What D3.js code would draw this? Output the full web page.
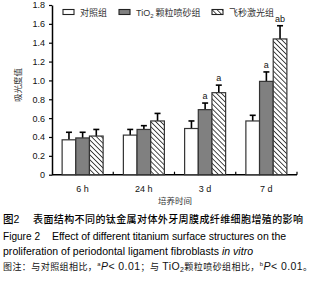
<!DOCTYPE html>
<html>
<head>
<meta charset="utf-8">
<script src="https://cdn.jsdelivr.net/npm/d3@7"></script>
<style>
  body { margin: 0; background: #fff; }
  svg { display: block; font-family: "Liberation Sans", Arial, "Noto Sans CJK SC", sans-serif; }
</style>
</head>
<body>
<script>
/* ---------------------------------- data ---------------------------------- */
const categories = ["6 h", "24 h", "3 d", "7 d"];
const groups = ["对照组", "TiO2颗粒喷砂组", "飞秒激光组"];
const control = [0.37, 0.42, 0.49, 0.57];
const controlErr = [0.08, 0.06, 0.08, 0.06];
const tio2 = [0.39, 0.48, 0.69, 0.99];
const tio2Err = [0.06, 0.04, 0.07, 0.10];
const laser = [0.41, 0.57, 0.87, 1.44];
const laserErr = [0.07, 0.08, 0.08, 0.14];
const marks = [["", "", "", ""], ["", "", "a", "a"], ["", "", "a", "ab"]];
const yTicks = [0, 0.2, 0.4, 0.6, 0.8, 1.0, 1.2, 1.4, 1.6, 1.8];

const width = 320, height = 281;
const svg = d3.select("body").append("svg").attr("width", width).attr("height", height);

// hatch pattern (lines top-left to bottom-right)
const defs = svg.append("defs");
const pat = defs.append("pattern").attr("id", "hatch")
  .attr("patternUnits", "userSpaceOnUse").attr("width", 3.5).attr("height", 3.5)
  .attr("patternTransform", "rotate(45)");
pat.append("rect").attr("width", 3.5).attr("height", 3.5).attr("fill", "#fff");
pat.append("line").attr("x1", 0).attr("y1", 0).attr("x2", 3.5).attr("y2", 0)
  .attr("stroke", "#222").attr("stroke-width", 1.6);

const fills = ["#ffffff", "#808080", "url(#hatch)"];
const values = [control, tio2, laser];
const errs = [controlErr, tio2Err, laserErr];

/* --------------------------------- scales --------------------------------- */
const x = d3.scaleBand().domain(categories).range([52, 297]);
const xs = d3.scaleBand().domain(d3.range(3)).range([0, 41]);
const y = d3.scaleLinear().domain([0, 1.8]).range([174.7, 5]);
const pad = (x.bandwidth() - 41) / 2;

//y axis
const yAxis = svg.append("g").attr("transform", "translate(52,0)")
  .call(d3.axisLeft(y).tickValues(yTicks).tickSize(3).tickSizeOuter(0)
    .tickFormat(d => d === 0 ? "0" : d3.format(".1f")(d)));
yAxis.select(".domain").attr("stroke", "#000").attr("stroke-width", 1.5);
yAxis.selectAll("line").attr("stroke", "#000").attr("stroke-width", 1.2);
yAxis.selectAll("text").attr("font-size", 9).attr("fill", "#111").attr("dx", "-0.1em");

//x axis line and inward ticks
svg.append("line").attr("x1", 52).attr("x2", 297).attr("y1", y(0)).attr("y2", y(0))
  .attr("stroke", "#000").attr("stroke-width", 1.5);
svg.selectAll(".xt").data(categories).enter().append("line")
  .attr("x1", d => x(d) + x.step()).attr("x2", d => x(d) + x.step())
  .attr("y1", y(0)).attr("y2", y(0) - 3).attr("stroke", "#000").attr("stroke-width", 1.2);
svg.selectAll(".xl").data(categories).enter().append("text")
  .attr("x", d => x(d) + x.bandwidth() / 2).attr("y", 192)
  .attr("text-anchor", "middle").attr("font-size", 9).attr("fill", "#111").text(d => d);

/* ---------------------------------- bars ---------------------------------- */
values.forEach((vals, gi) => {
  const g = svg.append("g");
  categories.forEach((c, ci) => {
    const bx = x(c) + pad + xs(gi);
    const cx = bx + xs.bandwidth() / 2;
    const top = y(vals[ci] + errs[gi][ci]);
    g.append("line").attr("x1", cx).attr("x2", cx).attr("y1", y(vals[ci])).attr("y2", top)
      .attr("stroke", "#000").attr("stroke-width", 1.6);
    g.append("line").attr("x1", cx - 3).attr("x2", cx + 3).attr("y1", top).attr("y2", top)
      .attr("stroke", "#000").attr("stroke-width", 1.6);
    g.append("rect").attr("x", bx).attr("y", y(vals[ci]))
      .attr("width", xs.bandwidth()).attr("height", y(0) - y(vals[ci]))
      .attr("fill", fills[gi]).attr("stroke", "#333").attr("stroke-width", 1.2);
    if (marks[gi][ci]) {
      g.append("text").attr("x", cx).attr("y", top - 4).attr("text-anchor", "middle")
        .attr("font-size", 9).attr("fill", "#111").text(marks[gi][ci]);
    }
  });
});

/* --------------------------------- legend --------------------------------- */
const legX = [63, 119, 212];
const leg = svg.append("g");
groups.forEach((name, i) => {
  leg.append("rect").attr("x", legX[i]).attr("y", 9.5).attr("width", 11).attr("height", 5)
    .attr("fill", fills[i]).attr("stroke", "#222").attr("stroke-width", 1.1);
  const t = leg.append("text").attr("x", legX[i] + 17).attr("y", 15.5)
    .attr("font-size", 9).attr("fill", "#333");
  if (i === 1) {
    t.append("tspan").text("TiO");
    t.append("tspan").attr("font-size", 6).attr("dy", 2).text("2");
    t.append("tspan").attr("dy", -2).attr("dx", 2).text("颗粒喷砂组");
  } else t.text(name);
});

// axis titles
svg.append("text").attr("transform", "translate(21,85) rotate(-90)")
  .attr("text-anchor", "middle").attr("font-size", 8.5).attr("fill", "#333").text("吸光度值");
svg.append("text").attr("x", 175).attr("y", 204).attr("text-anchor", "middle")
  .attr("font-size", 8.5).attr("fill", "#333").text("培养时间");

/* --------------------------------- caption -------------------------------- */
svg.append("text").attr("x", 3).attr("y", 223).attr("font-size", 10.5).attr("fill", "#000")
  .attr("font-weight", 500).text("图2");
svg.append("text").attr("x", 33).attr("y", 223).attr("font-size", 10).attr("fill", "#000")
  .attr("font-weight", 500).attr("textLength", 270).attr("lengthAdjust", "spacing")
  .text("表面结构不同的钛金属对体外牙周膜成纤维细胞增殖的影响");
svg.append("text").attr("x", 3).attr("y", 240).attr("font-size", 10.5).attr("fill", "#000")
  .attr("textLength", 37).attr("lengthAdjust", "spacingAndGlyphs").text("Figure 2");
svg.append("text").attr("x", 52).attr("y", 240).attr("font-size", 10.5).attr("fill", "#000")
  .attr("textLength", 234).attr("lengthAdjust", "spacing")
  .text("Effect of different titanium surface structures on the");
const l3 = svg.append("text").attr("x", 3).attr("y", 255).attr("font-size", 10.5).attr("fill", "#000")
  .attr("textLength", 250).attr("lengthAdjust", "spacing");
l3.append("tspan").text("proliferation of periodontal ligament fibroblasts ");
l3.append("tspan").attr("font-style", "italic").text("in vitro");
const l4 = svg.append("text").attr("x", 3).attr("y", 270).attr("font-size", 9).attr("fill", "#111")
  .attr("textLength", 309).attr("lengthAdjust", "spacing");
l4.append("tspan").text("图注：与对照组相比，");
l4.append("tspan").attr("font-size", 6).attr("dy", -4).text("a");
l4.append("tspan").attr("dy", 4).attr("font-size", 10.5).attr("font-style", "italic").text("P");
l4.append("tspan").attr("font-size", 10.5).text("< 0.01");
l4.append("tspan").text("；与 ");
l4.append("tspan").attr("font-size", 10.5).text("TiO");
l4.append("tspan").attr("font-size", 7).attr("dy", 2).text("2");
l4.append("tspan").attr("dy", -2).text("颗粒喷砂组相比，");
l4.append("tspan").attr("font-size", 6).attr("dy", -4).text("b");
l4.append("tspan").attr("dy", 4).attr("font-size", 10.5).attr("font-style", "italic").text("P");
l4.append("tspan").attr("font-size", 10.5).text("< 0.01");
l4.append("tspan").text("。");
</script>
</body>
</html>
